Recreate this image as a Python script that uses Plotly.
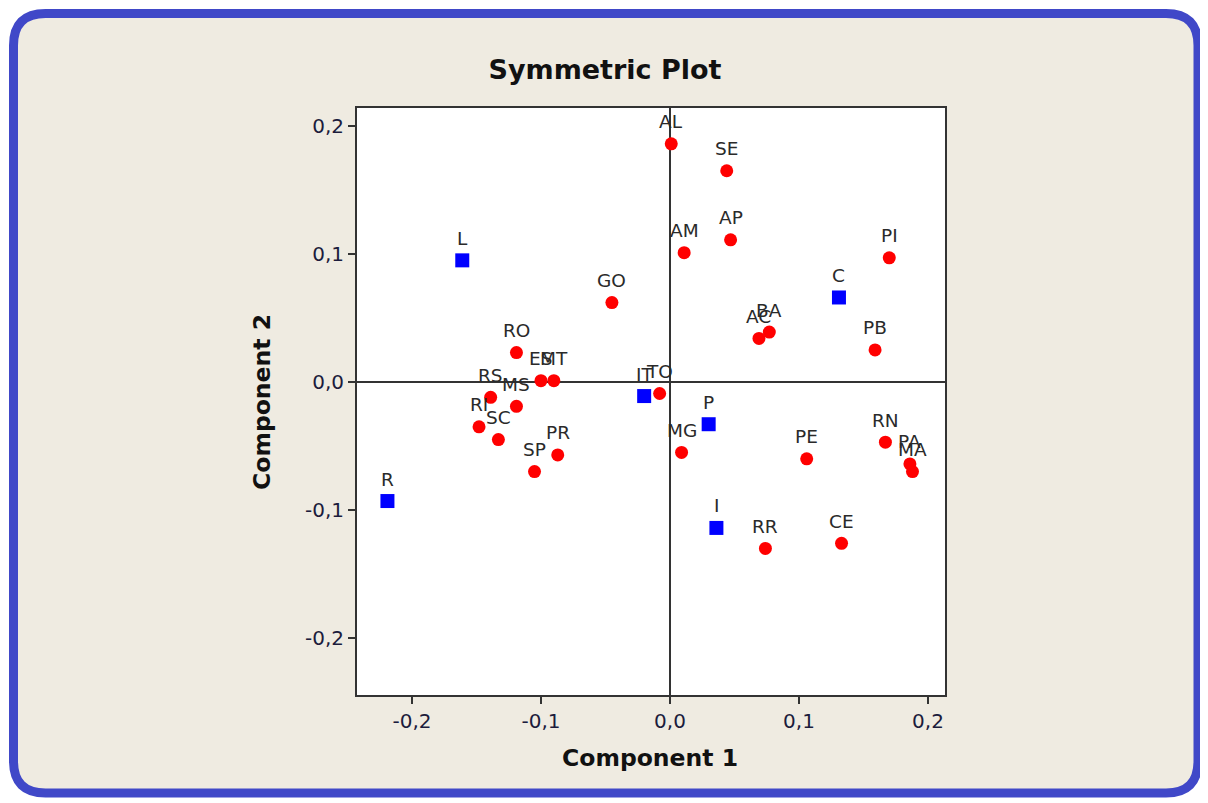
import plotly.graph_objects as go

# Row points (red circles)
row_labels = ["AL", "SE", "AP", "AM", "PI", "GO", "BA", "AC", "PB", "RO", "ES", "MT",
              "RS", "MS", "RI", "SC", "PR", "SP", "TO", "MG", "PE", "RN", "PA", "MA",
              "RR", "CE"]
row_x = [0.001, 0.044, 0.047, 0.011, 0.170, -0.045, 0.077, 0.069, 0.159, -0.119, -0.100, -0.090,
         -0.139, -0.119, -0.148, -0.133, -0.087, -0.105, -0.008, 0.009, 0.106, 0.167, 0.186, 0.188,
         0.074, 0.133]
row_y = [0.186, 0.165, 0.111, 0.101, 0.097, 0.062, 0.039, 0.034, 0.025, 0.023, 0.001, 0.001,
         -0.012, -0.019, -0.035, -0.045, -0.057, -0.070, -0.009, -0.055, -0.060, -0.047, -0.064, -0.070,
         -0.130, -0.126]

# Column points (blue squares)
col_labels = ["L", "C", "IT", "P", "I", "R"]
col_x = [-0.161, 0.131, -0.020, 0.030, 0.036, -0.219]
col_y = [0.095, 0.066, -0.011, -0.033, -0.114, -0.093]

tick_vals = [-0.2, -0.1, 0.0, 0.1, 0.2]
tick_text = ["-0,2", "-0,1", "0,0", "0,1", "0,2"]

# page offset (body margin) compensation
OFF = 8
W, H = 1200, 795
L_M, T_M = 357 - OFF, 108 - OFF
PW, PH = 588, 587
R_M = W - L_M - PW
B_M = H - T_M - PH


def px(X):
    return (X - OFF - L_M) / PW


def py(Y):
    return (T_M + PH - (Y - OFF)) / PH


def rounded_rect(x0, y0, x1, y1, r):
    pts = [
        f"M {px(x0 + r)},{py(y0)}",
        f"L {px(x1 - r)},{py(y0)}",
        f"Q {px(x1)},{py(y0)} {px(x1)},{py(y0 + r)}",
        f"L {px(x1)},{py(y1 - r)}",
        f"Q {px(x1)},{py(y1)} {px(x1 - r)},{py(y1)}",
        f"L {px(x0 + r)},{py(y1)}",
        f"Q {px(x0)},{py(y1)} {px(x0)},{py(y1 - r)}",
        f"L {px(x0)},{py(y0 + r)}",
        f"Q {px(x0)},{py(y0)} {px(x0 + r)},{py(y0)}",
        "Z",
    ]
    return " ".join(pts)


FONT = "DejaVu Sans, Verdana, sans-serif"
TXT = "#2a2a2a"

fig = go.Figure()
fig.add_trace(go.Scatter(
    x=row_x, y=row_y, text=row_labels, mode="markers",
    marker=dict(symbol="circle", size=13, color="#FF0000"),
    cliponaxis=False, showlegend=False, hoverinfo="text"))
fig.add_trace(go.Scatter(
    x=col_x, y=col_y, text=col_labels, mode="markers",
    marker=dict(symbol="square", size=14, color="#0000FF"),
    cliponaxis=False, showlegend=False, hoverinfo="text"))

label_annots = []
for lx, ly, lt in zip(row_x + col_x, row_y + col_y, row_labels + col_labels):
    label_annots.append(dict(
        x=lx, y=ly, xref="x", yref="y", text=lt, showarrow=False,
        xanchor="center", yanchor="middle", yshift=22,
        font=dict(family=FONT, size=18.5, color=TXT)))

axis_common = dict(
    showgrid=False, zeroline=True, zerolinecolor="#333333", zerolinewidth=1.5,
    showline=True, linecolor="#333333", linewidth=2, mirror=True,
    ticks="outside", ticklen=7, tickwidth=1.5, tickcolor="#333333",
    tickvals=tick_vals, ticktext=tick_text,
    tickfont=dict(family=FONT, size=20, color="#1c1c3c"),
)

fig.update_layout(
    width=W, height=H,
    margin=dict(l=L_M, r=R_M, t=T_M, b=B_M),
    paper_bgcolor="white", plot_bgcolor="white",
    xaxis=dict(range=[-0.2426, 0.2132], **axis_common),
    yaxis=dict(range=[-0.2445, 0.214], **axis_common),
    title=dict(text="<b>Symmetric Plot</b>", font=dict(family=FONT, size=27, color="#111111"),
               xref="paper", x=px(605), xanchor="center",
               yref="container", y=1 - (70 - OFF) / H, yanchor="middle"),
    shapes=[
        dict(type="path", xref="paper", yref="paper", layer="below",
             path=rounded_rect(13.5, 13.5, 1198, 793, 32),
             fillcolor="#EFEBE1", line=dict(color="#4048C8", width=9)),
        dict(type="rect", xref="paper", yref="paper", layer="below",
             x0=0, x1=1, y0=0, y1=1, fillcolor="white", line=dict(width=0)),
    ],
    annotations=label_annots + [
        dict(text="<b>Component 1</b>", xref="paper", yref="paper",
             x=px(650), y=py(758), xanchor="center", yanchor="middle", showarrow=False,
             font=dict(family=FONT, size=23.5, color="#111111")),
        dict(text="<b>Component 2</b>", xref="paper", yref="paper", textangle=-90,
             x=px(262), y=py(402), xanchor="center", yanchor="middle", showarrow=False,
             font=dict(family=FONT, size=23.5, color="#111111")),
    ],
)

fig.write_html("out.html")
